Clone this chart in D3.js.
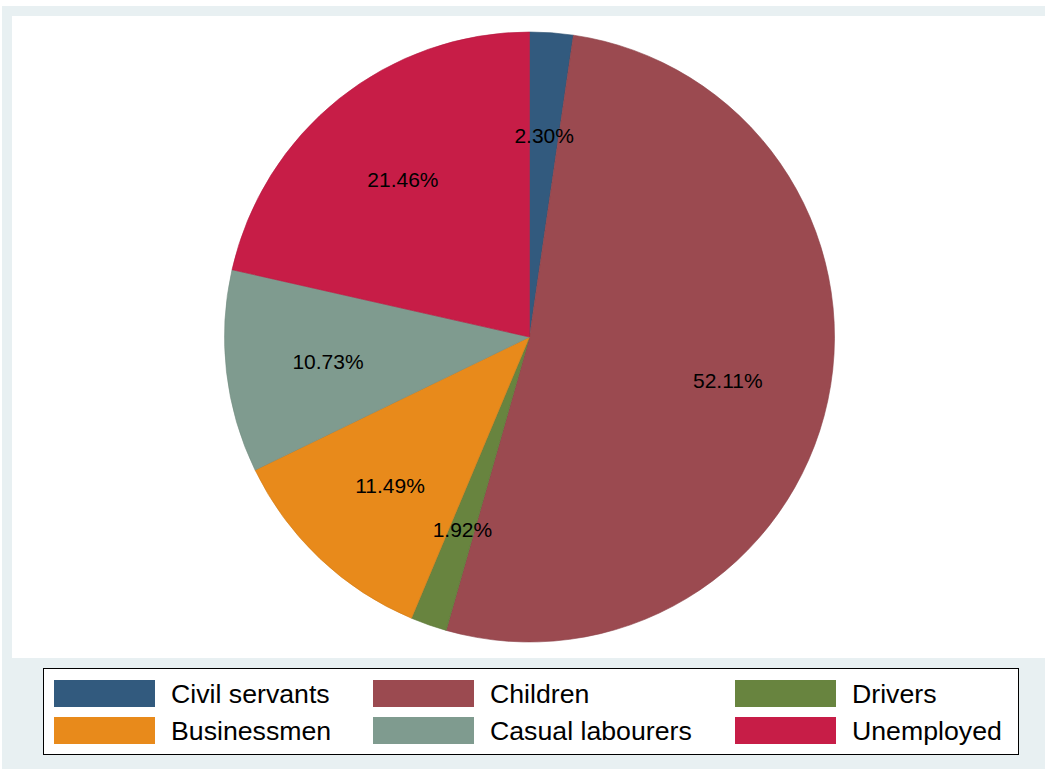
<!DOCTYPE html>
<html>
<head>
<meta charset="utf-8">
<script src="https://cdn.jsdelivr.net/npm/d3@7"></script>
<style>
  body { margin: 0; background: #fff; }
  svg { display: block; font-family: "Liberation Sans", Arial, sans-serif; }
</style>
</head>
<body>
<div id="chart"></div>
<script>
// categories in drawing order (clockwise from 12 o'clock)
const categories = ["Civil servants", "Children", "Drivers", "Businessmen", "Casual labourers", "Unemployed"];
const shares = [2.30, 52.11, 1.92, 11.49, 10.73, 21.46];
const colors = ["#325a7e", "#9b4a50", "#68843f", "#e88a1b", "#7f9b8f", "#c71d47"];
const labels = ["2.30%", "52.11%", "1.92%", "11.49%", "10.73%", "21.46%"];

const W = 1045, H = 769;
const svg = d3.select("#chart").append("svg")
    .attr("width", W)
    .attr("height", H);

// outer graph region and inner plot region
svg.append("rect")
    .attr("x", 2).attr("y", 6)
    .attr("width", W - 2).attr("height", H - 6)
    .style("fill", "#e8f0f2");

svg.append("rect")
    .attr("x", 12).attr("y", 16)
    .attr("width", W - 12).attr("height", 642)
    .style("fill", "#ffffff");

const cx = 529.5, cy = 337, r = 305;

const data = categories.map((c, i) => ({ cat: c, value: shares[i], color: colors[i], label: labels[i] }));

const pie = d3.pie()
    .value(d => d.value)
    .sort(null);

const arc = d3.arc()
    .innerRadius(0)
    .outerRadius(r);

const labelArc = d3.arc()
    .innerRadius(r * 0.665)
    .outerRadius(r * 0.665);

const g = svg.append("g")
    .attr("transform", `translate(${cx},${cy})`);

const arcs = pie(data);

g.selectAll("path.slice")
    .data(arcs)
    .enter()
    .append("path")
    .attr("class", "slice")
    .attr("d", arc)
    .style("fill", d => d.data.color)
    .style("stroke", d => d3.color(d.data.color).darker(0.3))
    .style("stroke-width", 0.6);

g.selectAll("text.lbl")
    .data(arcs)
    .enter()
    .append("text")
    .attr("class", "lbl")
    .attr("transform", d => `translate(${labelArc.centroid(d)})`)
    .attr("text-anchor", "middle")
    .attr("dy", "0.4em")
    .style("font-size", "21px")
    .style("fill", "#000")
    .text(d => d.data.label);

// legend
const legend = svg.append("g");
legend.append("rect")
    .attr("x", 43.5).attr("y", 668.5)
    .attr("width", 975).attr("height", 86)
    .style("fill", "#fff")
    .style("stroke", "#000")
    .style("stroke-width", 1);

const colX = [54, 373, 735];
const rowY = [680, 717];
const item = legend.selectAll("g.item")
    .data(data)
    .enter()
    .append("g")
    .attr("class", "item")
    .attr("transform", (d, i) => `translate(${colX[i % 3]},${rowY[Math.floor(i / 3)]})`);

item.append("rect")
    .attr("width", 101)
    .attr("height", 27)
    .style("fill", d => d.color);

item.append("text")
    .attr("x", 117)
    .attr("y", 13.5)
    .attr("dy", "0.36em")
    .style("font-size", "26.7px")
    .style("fill", "#000")
    .text(d => d.cat);
</script>
</body>
</html>
